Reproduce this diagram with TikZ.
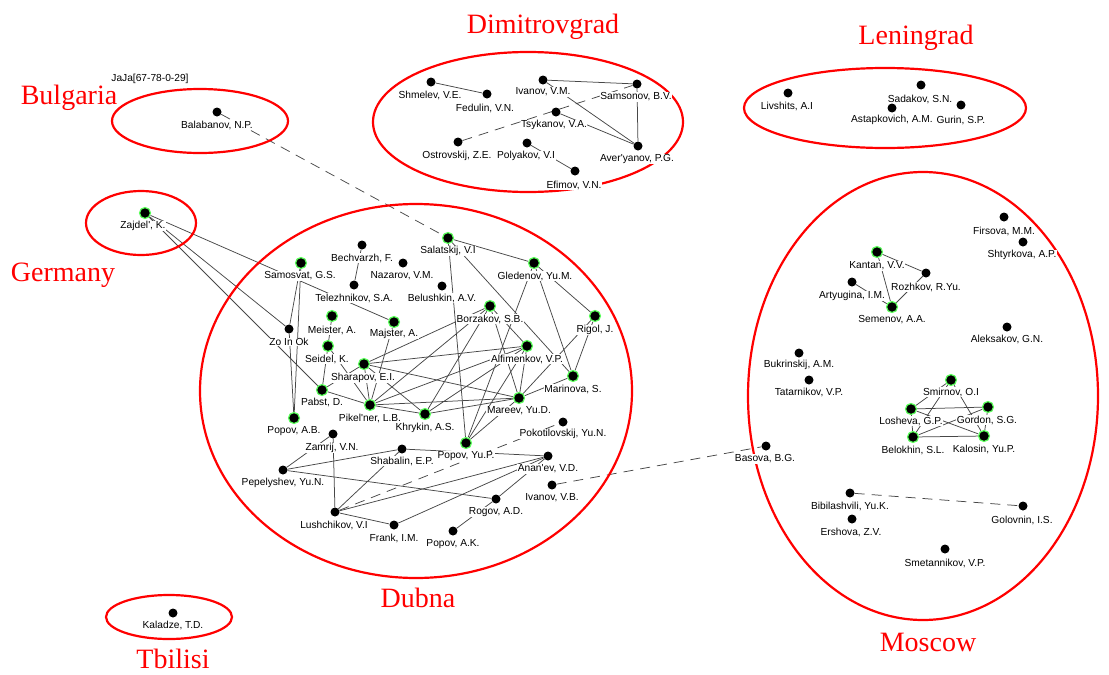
\documentclass[tikz,border=0pt]{standalone}
\usepackage{fontspec}
\setmainfont{Liberation Serif}
\newfontfamily\labfont{Liberation Sans}
\pgfdeclarelayer{edges}
\pgfsetlayers{edges,main}
\newcommand\ap{\textquotesingle}
% person: name, dot position, label position, label text, dot style
\newcommand\who[5]{%
  \node[lab] (#1-t) at (#3) {#4};
  \node[#5] (#1) at (#2) {};}
\begin{document}
\begin{tikzpicture}[x=1pt,y=-1pt,
  dot/.style={circle,fill=black,inner sep=0pt,minimum size=9pt},
  gdot/.style={dot,draw={rgb,255:red,90;green,255;blue,90},line width=1.2pt,minimum size=11pt},
  lab/.style={font=\labfont\fontsize{10.2}{11}\selectfont,fill=white,inner sep=0.6pt},
  region/.style={draw=red,line width=2.2pt},
  place/.style={text=red,font=\fontsize{28}{30}\selectfont,inner sep=0pt,anchor=base},
  edge/.style={draw=black!72,line width=0.75pt},
  dedge/.style={edge,dash pattern=on 10pt off 7pt}]
\useasboundingbox (0,0) rectangle (1109,675);

% regions
\draw[region] (200,121) ellipse [x radius=88pt,y radius=32pt];
\draw[region] (528,122) ellipse [x radius=155pt,y radius=70pt];
\draw[region] (885,108) ellipse [x radius=141pt,y radius=40pt];
\draw[region] (141,223) ellipse [x radius=55pt,y radius=32pt];
\draw[region] (416,391) ellipse [x radius=216pt,y radius=187pt];
\draw[region] (923,396) ellipse [x radius=175pt,y radius=224pt];
\draw[region] (169,617) ellipse [x radius=63pt,y radius=22pt];

% place names
\node[place] (pBul) at (69,104) {Bulgaria};
\node[place] (pDim) at (543,33) {Dimitrovgrad};
\node[place] (pLen) at (916,44) {Leningrad};
\node[place] (pGer) at (63,281) {Germany};
\node[place] (pDub) at (418,607) {Dubna};
\node[place] (pMos) at (928,651) {Moscow};
\node[place] (pTbi) at (173,668) {Tbilisi};
\node[lab,fill=none] (jaja) at (150,79) {JaJa[67-78-0-29]};

% Bulgaria
\who{bal}{217,112}{217,125}{Balabanov, N.P.}{dot}
% Dimitrovgrad
\who{shm}{431,82}{430,95}{Shmelev, V.E.}{dot}
\who{fed}{487,94}{485,108}{Fedulin, V.N.}{dot}
\who{ivm}{543,80}{543,92}{Ivanov, V.M.}{dot}
\who{sms}{637,84}{636,97}{Samsonov, B.V.}{dot}
\who{tsy}{556,112}{554,125}{Tsykanov, V.A.}{dot}
\who{ost}{458,142}{457,156}{Ostrovskij, Z.E.}{dot}
\who{pol}{527,143}{526,156}{Polyakov, V.I}{dot}
\who{ave}{638,146}{637,159}{Aver\ap yanov, P.G.}{dot}
\who{efi}{575,171}{574,185}{Efimov, V.N.}{dot}
% Leningrad
\who{liv}{788,93}{787,106}{Livshits, A.I}{dot}
\who{sad}{921,85}{920,99}{Sadakov, S.N.}{dot}
\who{ast}{892,108}{892,120}{Astapkovich, A.M.}{dot}
\who{gur}{961,105}{961,120}{Gurin, S.P.}{dot}
% Germany
\who{zaj}{145,213}{143,226}{Zajdel\ap, K.}{gdot}
% Tbilisi
\who{kal}{173,613}{173,625}{Kaladze, T.D.}{dot}
% Dubna
\who{sal}{448,238}{448,251}{Salatskij, V.I}{gdot}
\who{gle}{534,263}{535,276}{Gledenov, Yu.M.}{gdot}
\who{bec}{362,245}{362,258}{Bechvarzh, F.}{dot}
\who{naz}{403,263}{402,276}{Nazarov, V.M.}{dot}
\who{smv}{301,263}{300,276}{Samosvat, G.S.}{gdot}
\who{tel}{354,285}{354,298}{Telezhnikov, S.A.}{dot}
\who{bel}{442,286}{442,298}{Belushkin, A.V.}{dot}
\who{bor}{490,306}{490,319}{Borzakov, S.B.}{gdot}
\who{rig}{595,316}{595,330}{Rigol, J.}{gdot}
\who{mei}{332,316}{332,330}{Meister, A.}{gdot}
\who{maj}{394,322}{394,334}{Majster, A.}{gdot}
\who{zoi}{289,329}{289,342}{Zo In Ok}{dot}
\who{sei}{328,346}{327,359}{Seidel, K.}{gdot}
\who{alf}{527,346}{527,359}{Alfimenkov, V.P.}{gdot}
\who{sha}{364,364}{363,378}{Sharapov, E.I.}{gdot}
\who{mrn}{573,376}{573,389}{Marinova, S.}{gdot}
\who{pab}{322,390}{322,402}{Pabst, D.}{gdot}
\who{mar}{519,398}{519,411}{Mareev, Yu.D.}{gdot}
\who{pik}{370,405}{370,418}{Pikel\ap ner, L.B.}{gdot}
\who{khr}{425,414}{425,428}{Khrykin, A.S.}{gdot}
\who{pab2}{294,418}{294,431}{Popov, A.B.}{gdot}
\who{pok}{563,422}{563,434}{Pokotilovskij, Yu.N.}{dot}
\who{zam}{333,434}{332,448}{Zamrij, V.N.}{dot}
\who{pyp}{466,443}{466,456}{Popov, Yu.P.}{gdot}
\who{sab}{402,449}{402,461}{Shabalin, E.P.}{dot}
\who{ana}{548,456}{548,469}{Anan\ap ev, V.D.}{dot}
\who{pep}{283,470}{283,483}{Pepelyshev, Yu.N.}{dot}
\who{ivb}{552,485}{552,498}{Ivanov, V.B.}{dot}
\who{rog}{496,499}{496,512}{Rogov, A.D.}{dot}
\who{lus}{335,512}{334,525}{Lushchikov, V.I}{dot}
\who{fra}{394,525}{394,538}{Frank, I.M.}{dot}
\who{pak}{453,531}{453,544}{Popov, A.K.}{dot}
% Moscow
\who{fir}{1004,217}{1004,231}{Firsova, M.M.}{dot}
\who{sht}{1023,242}{1022,255}{Shtyrkova, A.P.}{dot}
\who{kan}{877,252}{877,266}{Kantan, V.V.}{gdot}
\who{roz}{926,273}{926,287}{Rozhkov, R.Yu.}{dot}
\who{art}{852,282}{852,296}{Artyugina, I.M.}{dot}
\who{sem}{892,307}{892,320}{Semenov, A.A.}{gdot}
\who{ale}{1007,327}{1007,339}{Aleksakov, G.N.}{dot}
\who{buk}{799,353}{799,365}{Bukrinskij, A.M.}{dot}
\who{tat}{809,380}{809,392}{Tatarnikov, V.P.}{dot}
\who{smi}{951,380}{951,392}{Smirnov, O.I}{gdot}
\who{los}{911,409}{911,421}{Losheva, G.P.}{gdot}
\who{gor}{988,407}{987,420}{Gordon, S.G.}{gdot}
\who{blk}{913,437}{913,450}{Belokhin, S.L.}{gdot}
\who{kls}{984,436}{984,449}{Kalosin, Yu.P.}{gdot}
\who{bas}{766,446}{765,459}{Basova, B.G.}{dot}
\who{bib}{850,493}{850,506}{Bibilashvili, Yu.K.}{dot}
\who{gol}{1023,506}{1022,520}{Golovnin, I.S.}{dot}
\who{ers}{852,519}{851,532}{Ershova, Z.V.}{dot}
\who{sme}{945,549}{945,563}{Smetannikov, V.P.}{dot}

\begin{pgfonlayer}{edges}
% Dimitrovgrad
\draw[edge] (shm) -- (fed);
\draw[edge] (ivm) -- (sms);
\draw[edge] (ivm) -- (ave);
\draw[edge] (sms) -- (ave);
\draw[edge] (tsy) -- (ave);
\draw[edge] (pol) -- (efi);
\draw[dedge] (ost) -- (sms);
% links between regions
\draw[dedge] (bal) -- (sal);
\draw[dedge] (ivb) -- (bas);
\draw[edge] (zaj) -- (maj);
\draw[edge] (zaj) -- (zoi);
\draw[edge] (zaj) -- (pab);
% Dubna
\draw[edge] (smv) -- (zoi);
\draw[edge] (smv) -- (pab2);
\draw[edge] (zoi) -- (pab2);
\draw[edge] (bec) -- (tel);
\draw[edge] (sal) -- (gle);
\draw[edge] (sal) -- (pyp);
\draw[edge] (sal) -- (mrn);
\draw[edge] (gle) -- (rig);
\draw[edge] (gle) -- (pyp);
\draw[edge] (gle) -- (mrn);
\draw[edge] (rig) -- (mrn);
\draw[edge] (rig) -- (mar);
\draw[edge] (mei) -- (sei);
\draw[edge] (sei) -- (pab);
\draw[edge] (sei) -- (pik);
\draw[edge] (pab) -- (pik);
\draw[edge] (pab) -- (sha);
\draw[edge] (sha) -- (pik);
\draw[edge] (sha) -- (khr);
\draw[edge] (sha) -- (mar);
\draw[edge] (sha) -- (alf);
\draw[edge] (sha) -- (bor);
\draw[edge] (maj) -- (pik);
\draw[edge] (bor) -- (alf);
\draw[edge] (bor) -- (mar);
\draw[edge] (bor) -- (khr);
\draw[edge] (bor) -- (pik);
\draw[edge] (pik) -- (khr);
\draw[edge] (pik) -- (mar);
\draw[edge] (pik) -- (alf);
\draw[edge] (khr) -- (alf);
\draw[edge] (khr) -- (mar);
\draw[edge] (alf) -- (mar);
\draw[edge] (alf) -- (pyp);
\draw[edge] (mar) -- (pyp);
\draw[edge] (mrn) -- (mar);
\draw[dedge] (lus) -- (pok);
\draw[edge] (zam) -- (lus);
\draw[edge] (zam) -- (pep);
\draw[edge] (sab) -- (lus);
\draw[edge] (sab) -- (pep);
\draw[edge] (sab) -- (ana);
\draw[edge] (lus) -- (ana);
\draw[edge] (lus) -- (fra);
\draw[edge] (fra) -- (ana);
\draw[edge] (rog) -- (ana);
\draw[edge] (pep) -- (rog);
\draw[edge] (pak) -- (rog);
% Moscow
\draw[edge] (kan) -- (roz);
\draw[edge] (kan) -- (sem);
\draw[edge] (roz) -- (sem);
\draw[edge] (art) -- (sem);
\draw[edge] (smi) -- (los);
\draw[edge] (smi) -- (blk);
\draw[edge] (smi) -- (kls);
\draw[edge] (los) -- (gor);
\draw[edge] (los) -- (kls);
\draw[edge] (los) -- (blk);
\draw[edge] (gor) -- (blk);
\draw[edge] (gor) -- (kls);
\draw[edge] (blk) -- (kls);
\draw[dedge] (bib) -- (gol);
\end{pgfonlayer}
\end{tikzpicture}
\end{document}
